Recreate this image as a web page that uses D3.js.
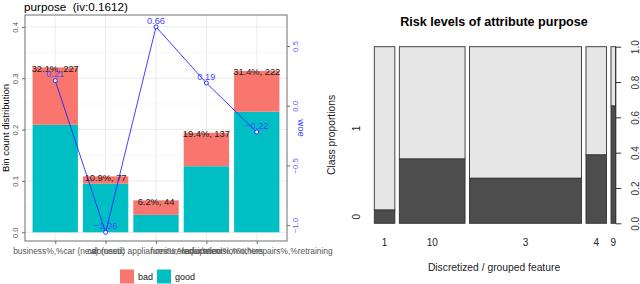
<!DOCTYPE html>
<html>
<head>
<meta charset="utf-8">
<script src="https://cdn.jsdelivr.net/npm/d3@7"></script>
<style>
  html, body { margin: 0; padding: 0; background: #fff; }
  svg { display: block; font-family: "Liberation Sans", Arial, Helvetica, sans-serif; }
</style>
</head>
<body>
<svg id="chart" width="640" height="284"></svg>
<script>
// ---------- data: left panel (binning of "purpose") ----------
const featureName = "purpose";
const ivValue = "0.1612";
const bins = [
  "business%,%car (new)",
  "car (used)",
  "domestic appliances%,%education",
  "furniture/equipment%,%others",
  "radio/television%,%repairs%,%retraining"
];
const goodCount = [148, 67, 24, 91, 166];
const badCount  = [79, 10, 20, 46, 56];
const woeValues = [0.21, -1.06, 0.66, 0.19, -0.22];
const binTicks = [0, 0.1, 0.2, 0.3, 0.4];
const binMinorTicks = [0.05, 0.15, 0.25, 0.35];
const woeTicks = [0.5, 0, -0.5, -1.0];
const legendLabels = ["bad", "good"];

// ---------- data: right panel (spineplot) ----------
const groups = ["1", "10", "3", "4", "9"];
const groupShare = [0.092, 0.294, 0.501, 0.092, 0.021];
const class0Share = [0.075, 0.364, 0.255, 0.387, 0.664];
const propTicks = [0, 0.2, 0.4, 0.6, 0.8, 1.0];
const classLabels = ["0", "1"];

const svg = d3.select("#chart");
const RED = "#F8766D", TEAL = "#00BFC4";

// ================= LEFT PANEL =================
const total = d3.sum(goodCount) + d3.sum(badCount);
const rows = bins.map((b, i) => ({
  bin: b,
  good: goodCount[i] / total,
  bad: badCount[i] / total,
  n: goodCount[i] + badCount[i],
  woe: woeValues[i]
}));

const P = { left: 25, right: 287, top: 15, bottom: 241 };
const x = d3.scalePoint().domain(bins).range([P.left + 0.6 * 50.4, P.right - 0.6 * 50.4]);
const step = x.step();
const barW = step * 0.9;
const yBin = d3.scaleLinear().domain([0, 0.4]).range([232.3, 26.9]);
const wMin = d3.min(woeValues), wMax = d3.max(woeValues);
// woe is drawn on the bin-distribution scale: min woe -> 0, max woe -> 0.4
const woeToBin = d3.scaleLinear().domain([wMin, wMax]).range([0, 0.4]);
const yWoe = d3.scaleLinear().domain([wMin, wMax]).range([yBin(0), yBin(0.4)]);

const L = svg.append("g");
L.append("rect").attr("x", P.left).attr("y", P.top)
  .attr("width", P.right - P.left).attr("height", P.bottom - P.top).attr("fill", "#fff");
L.selectAll("line.minor").data(binMinorTicks).join("line")
  .attr("x1", P.left).attr("x2", P.right)
  .attr("y1", d => yBin(d)).attr("y2", d => yBin(d))
  .attr("stroke", "#F2F2F2").attr("stroke-width", 0.6);
L.selectAll("line.major").data(binTicks).join("line")
  .attr("x1", P.left).attr("x2", P.right)
  .attr("y1", d => yBin(d)).attr("y2", d => yBin(d))
  .attr("stroke", "#EBEBEB").attr("stroke-width", 1);
L.selectAll("line.vgrid").data(bins).join("line")
  .attr("x1", d => x(d)).attr("x2", d => x(d))
  .attr("y1", P.top).attr("y2", P.bottom)
  .attr("stroke", "#EBEBEB").attr("stroke-width", 1);

// bars
const stackData = d3.stack().keys(["good", "bad"])(rows);
const fills = { good: TEAL, bad: RED };
stackData.forEach(layer => {
  L.append("g").selectAll("rect").data(layer).join("rect")
    .attr("x", d => x(d.data.bin) - barW / 2)
    .attr("width", barW)
    .attr("y", d => yBin(d[1]))
    .attr("height", d => yBin(d[0]) - yBin(d[1]))
    .attr("fill", fills[layer.key]);
});

// bar labels
L.append("g").selectAll("text").data(rows).join("text")
  .attr("x", d => x(d.bin))
  .attr("y", d => yBin(d.good + d.bad) + 1)
  .attr("dy", "0.35em")
  .attr("text-anchor", "middle")
  .attr("font-size", 9.3)
  .attr("fill", "#1a1a1a")
  .text(d => d3.format(".1f")((d.good + d.bad) * 100) + "%, " + d.n);

// woe line
const line = d3.line().x(d => x(d.bin)).y(d => yBin(woeToBin(d.woe)));
L.append("path").datum(rows).attr("d", line)
  .attr("fill", "none").attr("stroke", "#1f1fff").attr("stroke-opacity", 0.85).attr("stroke-width", 1);
L.append("g").selectAll("circle").data(rows).join("circle")
  .attr("cx", d => x(d.bin)).attr("cy", d => yBin(woeToBin(d.woe)))
  .attr("r", 2).attr("fill", "#fff").attr("stroke", "#1f1fff").attr("stroke-width", 0.9);
L.append("g").selectAll("text").data(rows).join("text")
  .attr("x", d => x(d.bin))
  .attr("y", d => yBin(woeToBin(d.woe)) - 6.5)
  .attr("dy", "0.35em")
  .attr("text-anchor", "middle")
  .attr("font-size", 9.3)
  .attr("fill", "#4a4aff")
  .text(d => d3.format(".2f")(d.woe));

// panel border
L.append("rect").attr("x", P.left).attr("y", P.top)
  .attr("width", P.right - P.left).attr("height", P.bottom - P.top)
  .attr("fill", "none").attr("stroke", "#6e6e6e").attr("stroke-width", 1);

// left axis
const axL = L.append("g").attr("transform", `translate(${P.left},0)`)
  .call(d3.axisLeft(yBin).tickValues(binTicks).tickFormat(d3.format(".1f")).tickSize(3).tickPadding(0));
axL.select(".domain").remove();
axL.selectAll(".tick line").attr("stroke", "#6e6e6e");
axL.selectAll(".tick text")
  .attr("x", 0).attr("dy", "0.35em")
  .attr("transform", "translate(-9.7,0) rotate(-90)")
  .attr("text-anchor", "middle")
  .attr("font-size", 7.8).attr("fill", "#555")
  .attr("font-family", null);

// right (woe) axis
const axR = L.append("g").attr("transform", `translate(${P.right},0)`)
  .call(d3.axisRight(yWoe).tickValues(woeTicks).tickFormat(d3.format(".1f")).tickSize(3).tickPadding(0));
axR.select(".domain").remove();
axR.selectAll(".tick line").attr("stroke", "#6e6e6e");
axR.selectAll(".tick text")
  .attr("x", 0).attr("dy", "0.35em")
  .attr("transform", "translate(8.2,0) rotate(-90)")
  .attr("text-anchor", "middle")
  .attr("font-size", 7.8).attr("fill", "#5a5aff")
  .attr("font-family", null);

// bottom axis
const axB = L.append("g").attr("transform", `translate(0,${P.bottom})`)
  .call(d3.axisBottom(x).tickSize(3).tickPadding(0));
axB.select(".domain").remove();
axB.selectAll(".tick line").attr("stroke", "#6e6e6e");
axB.selectAll(".tick text")
  .attr("y", 13).attr("dy", 0)
  .attr("font-size", 8.4).attr("fill", "#555")
  .attr("font-family", null);

// titles
L.append("text").attr("x", 24).attr("y", 10.6)
  .attr("font-size", 11.7).attr("fill", "#000")
  .text(`${featureName}\u00a0\u00a0(iv:${ivValue})`);
L.append("text")
  .attr("transform", `translate(5.5,${(P.top + P.bottom) / 2}) rotate(-90)`)
  .attr("dy", "0.35em").attr("text-anchor", "middle")
  .attr("font-size", 9.5).attr("fill", "#000")
  .text("Bin count distribution");
L.append("text")
  .attr("transform", `translate(301,${(P.top + P.bottom) / 2}) rotate(90)`)
  .attr("dy", "0.35em").attr("text-anchor", "middle")
  .attr("font-size", 9.5).attr("fill", "#3a3aff")
  .text("woe");

// legend
const legX = d3.scaleOrdinal().domain(legendLabels).range([120, 157]);
const legFill = d3.scaleOrdinal().domain(legendLabels).range([RED, TEAL]);
const lg = L.append("g").selectAll("g").data(legendLabels).join("g")
  .attr("transform", d => `translate(${legX(d)},269.5)`);
lg.append("rect").attr("width", 14).attr("height", 14).attr("fill", d => legFill(d));
lg.append("text").attr("x", 18).attr("y", 7).attr("dy", "0.35em")
  .attr("font-size", 9).attr("fill", "#222").text(d => d);

// ================= RIGHT PANEL =================
const R = svg.append("g");
const off = 0.02;
const xs = d3.scaleLinear().domain([0, 1 + (groups.length - 1) * off]).range([374.3, 615.7]);
const yp = d3.scaleLinear().domain([0, 1]).range([223.3, 46.7]);
let acc = 0;
const spine = groups.map((g, i) => {
  const s = { g, x0: acc + i * off, x1: acc + groupShare[i] + i * off, p0: class0Share[i] };
  acc += groupShare[i];
  return s;
});

R.append("g").selectAll("rect.light").data(spine).join("rect")
  .attr("x", d => xs(d.x0)).attr("width", d => xs(d.x1) - xs(d.x0))
  .attr("y", yp(1)).attr("height", d => yp(d.p0) - yp(1))
  .attr("fill", "#E6E6E6").attr("stroke", "#333").attr("stroke-width", 0.9);
R.append("g").selectAll("rect.dark").data(spine).join("rect")
  .attr("x", d => xs(d.x0)).attr("width", d => xs(d.x1) - xs(d.x0))
  .attr("y", d => yp(d.p0)).attr("height", d => yp(0) - yp(d.p0))
  .attr("fill", "#4D4D4D").attr("stroke", "#333").attr("stroke-width", 0.9);

R.append("g").selectAll("text").data(spine).join("text")
  .attr("x", d => xs((d.x0 + d.x1) / 2)).attr("y", 242.7).attr("dy", "0.35em")
  .attr("text-anchor", "middle").attr("font-size", 10).attr("fill", "#222")
  .text(d => d.g);

const first = spine[0];
const classPos = [first.p0 / 2, (first.p0 + 1) / 2];
R.append("g").selectAll("text").data(classLabels).join("text")
  .attr("transform", (d, i) => `translate(356,${yp(classPos[i])}) rotate(-90)`)
  .attr("dy", "0.35em").attr("text-anchor", "middle")
  .attr("font-size", 10).attr("fill", "#222")
  .text(d => d);

const axP = R.append("g").attr("transform", `translate(${xs.range()[1]},0)`)
  .call(d3.axisRight(yp).tickValues(propTicks).tickFormat(d3.format(".1f")).tickSize(5.5).tickPadding(0));
axP.select(".domain").attr("stroke", "#333").attr("d", `M0,${yp(0)}V${yp(1)}`);
axP.selectAll(".tick line").attr("stroke", "#333");
axP.selectAll(".tick text")
  .attr("x", 0).attr("dy", "0.35em")
  .attr("transform", "translate(19.5,0) rotate(-90)")
  .attr("text-anchor", "middle")
  .attr("font-size", 10).attr("fill", "#333")
  .attr("font-family", null);

R.append("text").attr("x", 494).attr("y", 21.7).attr("dy", "0.35em")
  .attr("text-anchor", "middle").attr("font-size", 12.6).attr("font-weight", "bold").attr("fill", "#000")
  .text("Risk levels of attribute purpose");
R.append("text").attr("x", 494).attr("y", 267.7).attr("dy", "0.35em")
  .attr("text-anchor", "middle").attr("font-size", 10.3).attr("fill", "#222")
  .text("Discretized / grouped feature");
R.append("text")
  .attr("transform", `translate(331,${(yp(0) + yp(1)) / 2}) rotate(-90)`)
  .attr("dy", "0.35em").attr("text-anchor", "middle")
  .attr("font-size", 10.3).attr("fill", "#222")
  .text("Class proportions");
</script>
</body>
</html>
